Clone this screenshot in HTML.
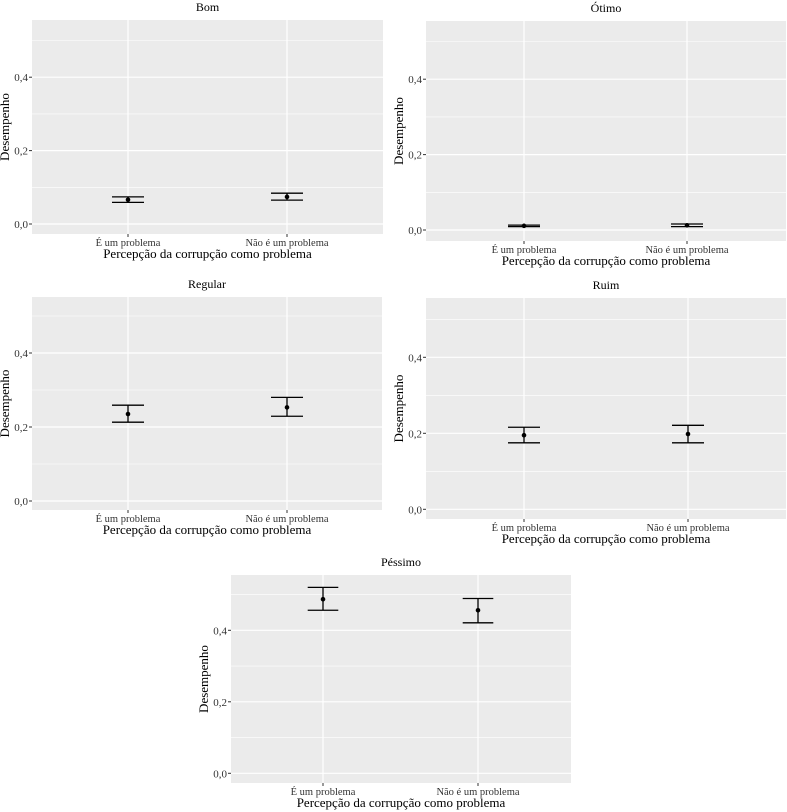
<!DOCTYPE html>
<html><head><meta charset="utf-8">
<style>
body{margin:0;background:#fff;}
svg{display:block;font-family:"Liberation Serif",serif;}
</style></head>
<body>
<svg id="chart" width="787" height="812" viewBox="0 0 787 812"></svg>
<script>
const categories = ["É um problema", "Não é um problema"];
const panelTitles = ["Bom", "Ótimo", "Regular", "Ruim", "Péssimo"];
const meanValues = [[0.066, 0.074], [0.011, 0.0125], [0.235, 0.253], [0.195, 0.198], [0.487, 0.456]];
const upperValues = [[0.074, 0.084], [0.013, 0.016], [0.259, 0.280], [0.216, 0.221], [0.520, 0.489]];
const lowerValues = [[0.059, 0.065], [0.009, 0.009], [0.213, 0.229], [0.175, 0.175], [0.456, 0.421]];
const majorTicks = [0, 0.2, 0.4];
const tickLabels = ["0,0", "0,2", "0,4"];
const minorTicks = [0.1, 0.3, 0.5];

// layout per panel: plot box, zero-line y, pixels per unit, category x positions
const layout = [
  {l:32, r:383, t:20, b:234, y0:224, ppu:367, cx:[128,287], cap:16},
  {l:426, r:786, t:21, b:241, y0:230, ppu:377, cx:[524,687], cap:16},
  {l:32, r:382, t:297, b:510, y0:501, ppu:370, cx:[128,287], cap:16},
  {l:426, r:786, t:298, b:519, y0:509.3, ppu:380, cx:[524,688], cap:16},
  {l:231, r:571, t:575, b:783, y0:773.3, ppu:357.5, cx:[323,478], cap:15.3}
];
const NS = "http://www.w3.org/2000/svg";
const svg = document.getElementById("chart");
function mk(tag, attrs, parent, text){
  const e = document.createElementNS(NS, tag);
  for (const k in attrs) e.setAttribute(k, attrs[k]);
  if (text !== undefined) e.textContent = text;
  parent.appendChild(e);
  return e;
}
panelTitles.forEach((title, p) => {
  const L = layout[p];
  const yScale = v => L.y0 - v * L.ppu;
  const xScale = i => L.cx[i];
  const g = mk("g", {}, svg);
  
  
  const bg = mk("rect", {x:L.l, y:L.t, width:L.r-L.l, height:L.b-L.t, fill:"#EBEBEB"}, g);
  
  
  minorTicks.forEach(v => {
    const y = yScale(v);
    if (y > L.t && y < L.b) {
      const ln = mk("line", {x1:L.l, x2:L.r, y1:y, y2:y, stroke:"#fff", "stroke-width":0.6}, g);
      
      
    }
  });
  majorTicks.forEach((v, i) => {
    const y = yScale(v);
    const ln = mk("line", {x1:L.l, x2:L.r, y1:y, y2:y, stroke:"#fff", "stroke-width":1.2}, g);
    
    
    const tk = mk("line", {x1:L.l-3, x2:L.l, y1:y, y2:y, stroke:"#333", "stroke-width":1}, g);
    
    
    const tl = mk("text", {x:L.l-4, y:y+4, "text-anchor":"end", "font-size":11, fill:"#333"}, g, tickLabels[i]);
    
    
  });
  categories.forEach((c, i) => {
    const x = xScale(i);
    const vl = mk("line", {x1:x, x2:x, y1:L.t, y2:L.b, stroke:"#fff", "stroke-width":1.2}, g);
    
    
    const tk = mk("line", {x1:x, x2:x, y1:L.b, y2:L.b+3, stroke:"#333", "stroke-width":1}, g);
    
    
    const tl = mk("text", {x:x, y:L.b+12, "text-anchor":"middle", "font-size":10.5, fill:"#333"}, g, c);
    
    
    const yu = yScale(upperValues[p][i]), yl = yScale(lowerValues[p][i]), ym = yScale(meanValues[p][i]);
    const eb = mk("g", {stroke:"#000", "stroke-width":1.3}, g);
    
    
    mk("line", {x1:x, x2:x, y1:yu, y2:yl}, eb);
    mk("line", {x1:x-L.cap, x2:x+L.cap, y1:yu, y2:yu}, eb);
    mk("line", {x1:x-L.cap, x2:x+L.cap, y1:yl, y2:yl}, eb);
    const pt = mk("circle", {cx:x, cy:ym, r:2.3, fill:"#000"}, g);
    
    
  });
  const cx = (L.l + L.r) / 2;
  const tt = mk("text", {x:cx, y:L.t-9, "text-anchor":"middle", "font-size":12, fill:"#000"}, g, title);
  
  
  const xt = mk("text", {x:cx, y:L.b+24, "text-anchor":"middle", "font-size":13, fill:"#000"}, g, "Percepção da corrupção como problema");
  
  
  const ty = (L.t + L.b) / 2, tx = L.l - 23;
  const yt = mk("text", {x:tx, y:ty, "text-anchor":"middle", "font-size":13, fill:"#000", transform:`rotate(-90 ${tx} ${ty})`}, g, "Desempenho");
  
  
});
</script>
</body></html>
